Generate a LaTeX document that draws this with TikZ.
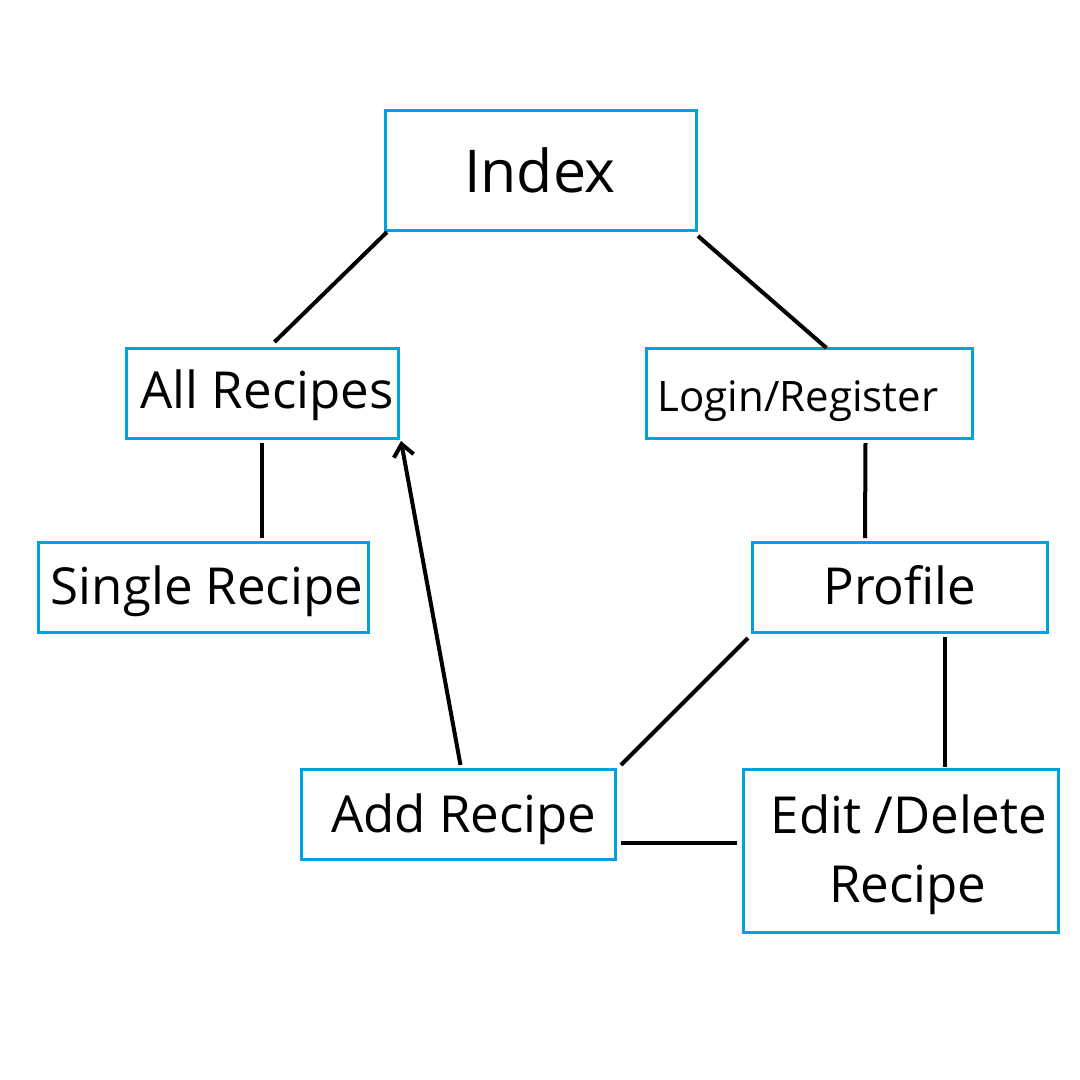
\documentclass[tikz,border=0pt]{standalone}
\usepackage{fontspec}
\setmainfont{Open Sans}
\usetikzlibrary{arrows.meta}
\definecolor{boxblue}{RGB}{0,163,224}
\begin{document}
\begin{tikzpicture}[x=1pt,y=-1pt,
  box/.style={draw=boxblue,line width=3pt,inner sep=0pt,anchor=north west},
  txt/.style={anchor=base,inner sep=0pt,text=black},
  conn/.style={draw=black,line width=4pt},
]
\useasboundingbox[fill=white] (0,0) rectangle (1080,1080);
% boxes (north west corner, size)
\node[box,minimum width=311pt,minimum height=120pt] (index) at (384,109) {};
\node[box,minimum width=272pt,minimum height=90pt] (allr) at (125,347) {};
\node[box,minimum width=326pt,minimum height=90pt] (login) at (645,347) {};
\node[box,minimum width=330pt,minimum height=90pt] (single) at (37,541) {};
\node[box,minimum width=295pt,minimum height=90pt] (profile) at (751,541) {};
\node[box,minimum width=314pt,minimum height=90pt] (add) at (300,768) {};
\node[box,minimum width=315pt,minimum height=163pt] (edit) at (742,768) {};
% texts
\node[txt,font=\fontsize{59}{70}\selectfont] (indext) at (540,192) {Index};
\node[txt,font=\fontsize{51}{60}\selectfont] (allrt) at (267,408) {All Recipes};
\node[txt,font=\fontsize{42}{52}\selectfont] (logint) at (798,411) {Login/Register};
\node[txt,font=\fontsize{51}{60}\selectfont] (singlet) at (207,604) {Single Recipe};
\node[txt,font=\fontsize{51}{60}\selectfont] (profilet) at (900,604) {Profile};
\node[txt,font=\fontsize{51}{60}\selectfont] (addt) at (464,832) {Add Recipe};
\node[txt,font=\fontsize{51}{60}\selectfont] (editt1) at (909,833) {Edit /Delete};
\node[txt,font=\fontsize{51}{60}\selectfont] (editt2) at (908,902) {Recipe};
% connectors
\draw[conn] ([xshift=3pt]index.south west) -- ([xshift=12pt,yshift=5pt]allr.north);
\draw[conn] ([yshift=-4pt]index.south east) -- ([xshift=17pt,yshift=-1pt]login.north);
\draw[conn] ([xshift=-1pt,yshift=-3pt]allr.south) -- ([xshift=58pt,yshift=3pt]single.north);
\draw[conn] ([xshift=56pt,yshift=-3pt]login.south) -- ([xshift=-35pt,yshift=3pt]profile.north);
\draw[conn] ([xshift=-3pt,yshift=-4pt]profile.south west) -- ([xshift=4pt,yshift=3pt]add.north east);
\draw[conn] ([xshift=45pt,yshift=-3pt]profile.south) -- ([xshift=44pt,yshift=1pt]edit.north);
\draw[conn] ([xshift=4pt,yshift=-28pt]add.east) -- ([xshift=-5pt,yshift=8.5pt]edit.west);
\draw[conn,-{Straight Barb[length=12pt,width=20pt,line width=4pt]}] ([xshift=2pt,yshift=3pt]add.north) -- ([xshift=1pt,yshift=-1pt]allr.south east);
\end{tikzpicture}
\end{document}
